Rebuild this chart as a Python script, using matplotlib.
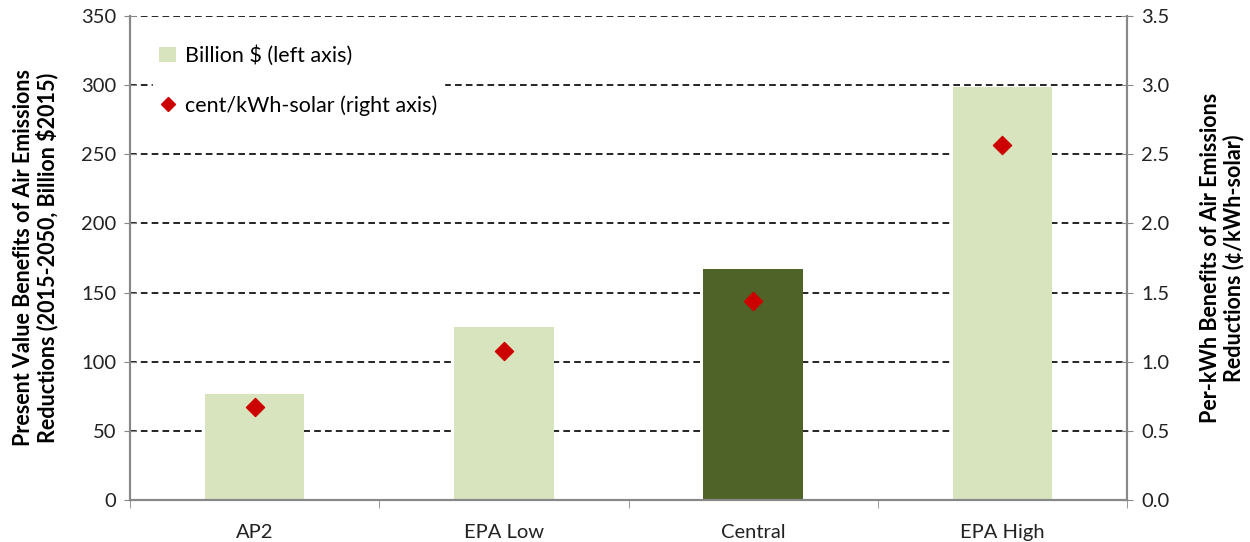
import matplotlib
matplotlib.use("Agg")
import matplotlib.pyplot as plt
from matplotlib.lines import Line2D
from matplotlib.patches import Patch

categories = ["AP2", "EPA Low", "Central", "EPA High"]
billion_usd = [77, 125, 167, 299]
cent_per_kwh = [0.67, 1.08, 1.44, 2.57]
bar_colors = ["#D7E4BD", "#D7E4BD", "#4F6228", "#D7E4BD"]
left_ticks = [0, 50, 100, 150, 200, 250, 300, 350]
right_ticks = [0.0, 0.5, 1.0, 1.5, 2.0, 2.5, 3.0, 3.5]

plt.rcParams['font.family'] = ['Lato', 'DejaVu Sans']

fig = plt.figure(figsize=(12.5, 5.42), dpi=100)
ax = fig.add_axes([0.104, 0.0775, 0.7976, 0.893])
ax2 = ax.twinx()

x = list(range(len(categories)))
ax.bar(x, billion_usd, width=0.4, color=bar_colors, zorder=2)
ax.set_xlim(-0.5, len(categories) - 0.5)
ax.set_ylim(0, 350)
ax.set_yticks(left_ticks)
ax.set_yticklabels([str(t) for t in left_ticks], fontsize=14.5, color="#222222")
ax.set_xticks(x)
ax.set_xticklabels(categories, fontsize=14.5, color="#222222")
ax.tick_params(axis='x', length=0, pad=17)
ax.set_xticks([i - 0.5 for i in range(len(categories) + 1)], minor=True)
ax.tick_params(axis='x', which='minor', length=6, color="#888888", direction='out')
ax.tick_params(axis='y', length=8, color="#888888", direction='inout', pad=6)
ax.yaxis.grid(True, linestyle=(0, (4, 2.5)), color="black", linewidth=1.2, zorder=0)
ax.set_axisbelow(True)

ax2.scatter(x, cent_per_kwh, marker='D', s=85, color="#CC0000", zorder=5)
ax2.set_ylim(0, 3.5)
ax2.set_yticks(right_ticks)
ax2.set_yticklabels([f"{t:.1f}" for t in right_ticks], fontsize=14.5, color="#222222")
ax2.tick_params(axis='y', length=8, color="#888888", direction='inout', pad=6)

for a in (ax, ax2):
    a.spines['top'].set_visible(False)
    for s in ('left', 'right', 'bottom'):
        a.spines[s].set_color("#888888")
        a.spines[s].set_linewidth(1.5)

ax.set_ylabel("Present Value Benefits of Air Emissions\nReductions (2015-2050, Billion $2015)",
              fontsize=15.5, fontweight='bold', labelpad=16, linespacing=1.1)
ax2.set_ylabel("Per-kWh Benefits of Air Emissions\nReductions (¢/kWh-solar)",
               fontsize=15.5, fontweight='bold', labelpad=22, rotation=90, linespacing=1.1)

handles = [Patch(facecolor="#D7E4BD", edgecolor="none"),
           Line2D([], [], marker='D', color="#CC0000", linestyle='none', markersize=7)]
leg = ax2.legend(handles, ["Billion $ (left axis)", "cent/kWh-solar (right axis)"],
                 loc='upper left', bbox_to_anchor=(0.012, 0.975), frameon=True,
                 fontsize=15.5, labelspacing=1.35, handlelength=0.8, handletextpad=0.4,
                 borderpad=0.3)
leg.get_frame().set_facecolor("white")
leg.get_frame().set_edgecolor("white")
leg.get_frame().set_alpha(1)

fig.savefig("out.png", dpi=100)
